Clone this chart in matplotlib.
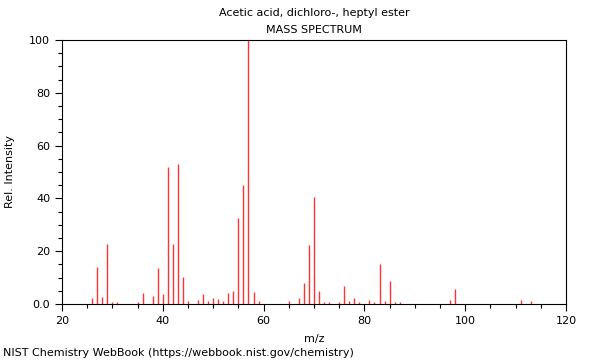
import matplotlib
matplotlib.use("Agg")
import matplotlib.pyplot as plt
from matplotlib.ticker import MultipleLocator, FixedLocator, FixedFormatter

# peaks (m/z, relative intensity)
mz = [26, 27, 28, 29, 30, 31, 35, 36, 38, 39, 40, 41, 42, 43, 44, 45,
      47, 48, 49, 50, 51, 52, 53, 54, 55, 56, 57, 58, 59,
      65, 67, 68, 69, 70, 71, 72, 73, 75, 76, 77, 78, 79,
      81, 82, 83, 84, 85, 86, 87, 97, 98, 111, 113]
intensity = [2.3, 14.0, 2.7, 22.7, 0.8, 0.8, 0.8, 4.2, 3.0, 13.6, 3.8, 52.0, 22.7, 53.0, 10.2, 1.2,
             1.5, 3.7, 1.3, 2.4, 1.9, 1.1, 4.2, 4.8, 32.7, 45.2, 100.0, 4.4, 1.0,
             1.3, 2.1, 7.8, 22.3, 40.5, 4.9, 0.8, 0.8, 0.7, 6.9, 1.1, 2.3, 0.7,
             1.5, 0.8, 15.3, 1.1, 8.7, 0.8, 0.8, 1.6, 5.7, 1.5, 1.2]

x_ticks = [20, 40, 60, 80, 100, 120]
y_ticks = [0, 20, 40, 60, 80, 100]
y_labels = ["0.0", "20", "40", "60", "80", "100"]

fig = plt.figure(figsize=(6, 3.6), dpi=100)
ax = fig.add_axes([62/600, 56/360, 504/600, 264/360])

ax.vlines(mz, 0, intensity, color="#ff3333", linewidth=1.0)

ax.set_xlim(20, 120)
ax.set_ylim(0, 100)
ax.xaxis.set_major_locator(FixedLocator(x_ticks))
ax.xaxis.set_minor_locator(MultipleLocator(5))
ax.yaxis.set_major_locator(FixedLocator(y_ticks))
ax.yaxis.set_major_formatter(FixedFormatter(y_labels))
ax.yaxis.set_minor_locator(MultipleLocator(5))
ax.tick_params(which="major", length=5, labelsize=8, width=0.8)
ax.tick_params(which="minor", length=3, width=0.8)
for s in ax.spines.values():
    s.set_linewidth(0.8)

ax.set_xlabel("m/z", fontsize=8, labelpad=6)
ax.set_ylabel("Rel. Intensity", fontsize=8, labelpad=10)

fig.text(314/600, 1 - 13/360, "Acetic acid, dichloro-, heptyl ester", fontsize=8, ha="center", va="center")
fig.text(314/600, 1 - 30/360, "MASS SPECTRUM", fontsize=8, ha="center", va="center")
fig.text(3/600, 1 - 353/360, "NIST Chemistry WebBook (https://webbook.nist.gov/chemistry)",
         fontsize=8, ha="left", va="center")

fig.savefig("out.png", dpi=100)
